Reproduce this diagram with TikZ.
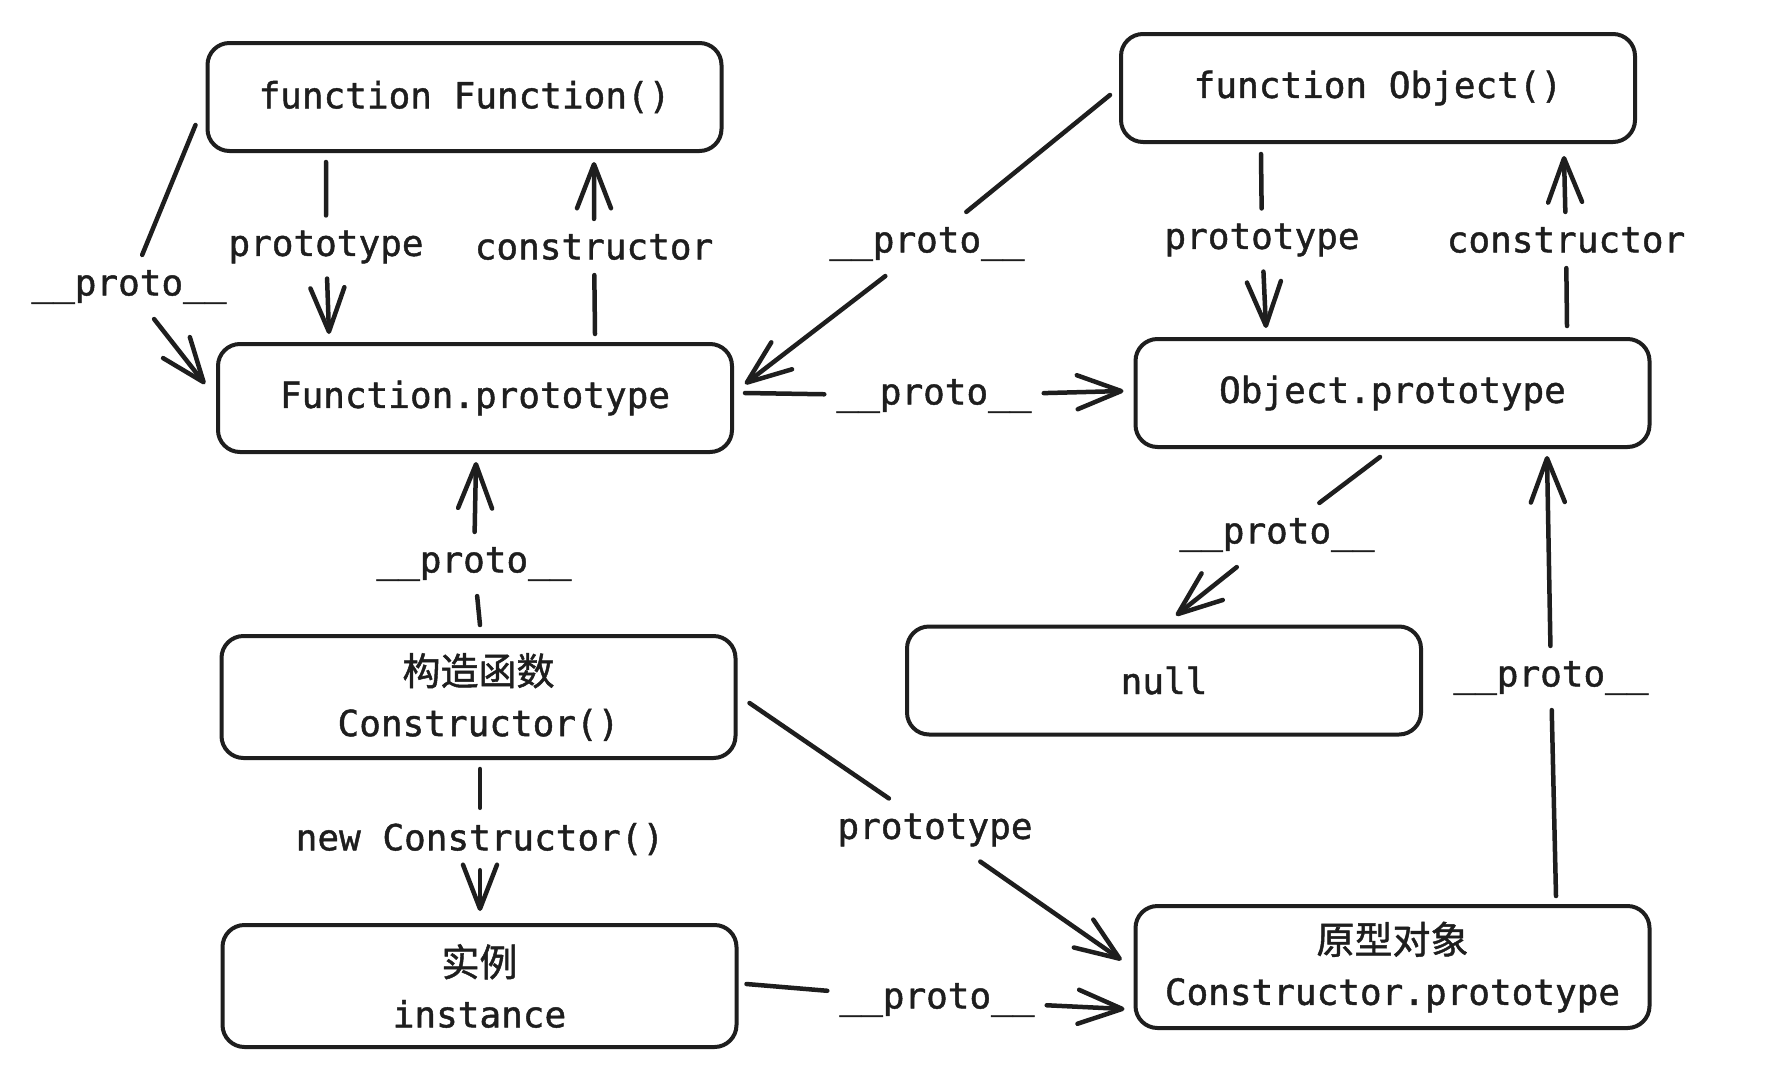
\documentclass[tikz,border=0pt]{standalone}
\usepackage{fontspec}
\setmainfont{DejaVu Sans Mono}[RawFeature={embolden=1.2}]
\newfontfamily\cjk{Noto Sans CJK SC}[RawFeature={embolden=1.2}]
\usetikzlibrary{arrows.meta,calc}
\definecolor{ink}{HTML}{1E1E1E}
\begin{document}
\begin{tikzpicture}[x=1pt,y=-1pt,
  box/.style={draw=ink, line width=4pt, rounded corners=22pt, minimum width=514pt, minimum height=108pt, inner sep=0pt, align=center, text=ink, font=\fontsize{36}{51}\selectfont},
  tall/.style={minimum height=122pt},
  lbl/.style={text=ink, font=\fontsize{36}{43}\selectfont, inner xsep=12pt, inner ysep=15pt},
  arr/.style={draw=ink, line width=4.5pt, line cap=round, -{Straight Barb[length=44pt,width=34pt,round]}}]
\useasboundingbox (0,0) rectangle (1778,1090);
\fill[white] (0,0) rectangle (1778,1090);
% boxes
\node[box] (fF) at (464.5,97) {function Function()};
\node[box] (fp) at (475,398) {Function.prototype};
\node[box] (fO) at (1378,88) {function Object()};
\node[box] (op) at (1392.5,393) {Object.prototype};
\node[box] (nl) at (1164,680.5) {null};
\node[box,tall] (ct) at (478.5,697) {{\cjk\fontsize{38}{51}\selectfont 构造函数}\\Constructor()};
\node[box,tall] (in) at (479.5,986) {{\cjk\fontsize{38}{51}\selectfont 实例}\\instance};
\node[box,tall] (cp) at (1392.5,967) {{\cjk\fontsize{38}{51}\selectfont 原型对象}\\Constructor.prototype};
% labels
\node[lbl] (lA) at (326,247) {prototype};
\node[lbl] (lB) at (594,247) {constructor};
\node[lbl] (lC) at (129,287) {\_\_proto\_\_};
\node[lbl] (lD) at (927,244) {\_\_proto\_\_};
\node[lbl] (lE) at (934,396) {\_\_proto\_\_};
\node[lbl] (lF) at (1262,240) {prototype};
\node[lbl] (lG) at (1566,240) {constructor};
\node[lbl] (lH) at (1277,535) {\_\_proto\_\_};
\node[lbl] (lI) at (1551,678) {\_\_proto\_\_};
\node[lbl] (lJ) at (474,564) {\_\_proto\_\_};
\node[lbl] (lK) at (480,839) {new Constructor()};
\node[lbl] (lL) at (935,830) {prototype};
\node[lbl] (lM) at (937,1000) {\_\_proto\_\_};
% connectors
\draw[arr] ($(fF.south)+(-138.5,9)$) -- (lA) -- ($(fp.north)+(-146,-8)$);
\draw[arr] ($(fp.north)+(120,-8)$) -- (lB) -- ($(fF.south)+(129.5,9)$);
\draw[arr] ($(fF.west)+(-10,28)$) -- (lC) -- ($(fp.west)+(-11,-14)$);
\draw[arr] ($(fO.west)+(-9,7)$) -- (lD) -- ($(fp.east)+(11,-14)$);
\draw[arr] ($(fp.east)+(11,-5)$) -- (lE) -- ($(op.west)+(-10,-2)$);
\draw[arr] ($(fO.south)+(-117,10)$) -- (lF) -- ($(op.north)+(-126.5,-9)$);
\draw[arr] ($(op.north)+(174.5,-11)$) -- (lG) -- ($(fO.south)+(186,12)$);
\draw[arr] ($(op.south)+(-12.5,8)$) -- (lH) -- ($(nl.north)+(12,-9)$);
\draw[arr] ($(cp.north)+(163.5,-8)$) -- (lI) -- ($(op.south)+(154.5,7)$);
\draw[arr] ($(ct.north)+(1.5,-9)$) -- (lJ) -- ($(fp.south)+(1,8)$);
\draw[arr] ($(ct.south)+(1.5,9)$) -- (lK) -- ($(in.north)+(0.5,-12)$);
\draw[arr] ($(ct.east)+(12,6)$) -- (lL) -- ($(cp.west)+(-12,-7)$);
\draw[arr] ($(in.east)+(8,-2)$) -- (lM) -- ($(cp.west)+(-9,42)$);
\end{tikzpicture}
\end{document}
